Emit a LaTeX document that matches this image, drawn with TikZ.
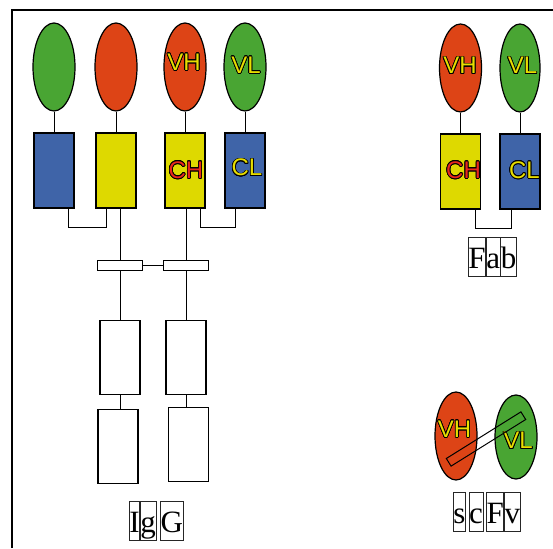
\documentclass[tikz,border=0pt]{standalone}
\usepackage{fontspec}
\setmainfont{Liberation Serif}
\newfontfamily\domfont{Liberation Sans}
\usepackage{contour}
\usepackage{tikz}
\usetikzlibrary{shapes, positioning}
\definecolor{vgreen}{RGB}{73,165,51}
\definecolor{vred}{RGB}{221,68,22}
\definecolor{cyellow}{RGB}{222,217,0}
\definecolor{cblue}{RGB}{63,100,168}
\definecolor{tyellow}{RGB}{232,222,0}
\definecolor{tred}{RGB}{232,40,30}
\contourlength{0.75pt}
\tikzstyle{vdom} = [draw, ellipse, line width=1.2pt, minimum width=42pt, minimum height=88pt, inner sep=0]
\tikzstyle{cdom} = [draw, rectangle, line width=1.2pt, minimum width=40pt, minimum height=75pt, inner sep=0]
\tikzstyle{fcdom} = [draw, rectangle, line width=1.2pt, fill=white, minimum width=40pt, minimum height=74pt, inner sep=0]
\tikzstyle{hinge} = [draw, rectangle, fill=white, minimum width=45pt, minimum height=10pt, inner sep=0]
\tikzstyle{chr} = [draw=black!85, line width=0.7pt, inner sep=0, text height=31pt, text depth=8pt, font=\fontsize{31}{31}\selectfont]
\tikzstyle{dlab} = [inner sep=0, font=\domfont\fontsize{24}{24}\selectfont]
\newcommand{\yl}[1]{\textcolor{tyellow}{\contour{black}{#1}}}
\newcommand{\rl}[1]{\textcolor{tred}{\contour{black}{#1}}}

\begin{document}
\begin{tikzpicture}[x=1pt, y=1pt, line width=1pt]
  \useasboundingbox (0,0) rectangle (553,548);
  \draw [line width=1.5pt] (12,0) -- (12,538) -- (553,538);

  % IgG
  \node [vdom, fill=vgreen] (vl1) at (54,481) {};
  \node [vdom, fill=vred] (vh1) at (116,481) {};
  \node [vdom, fill=vred] (vh2) at (185,481) {};
  \node [vdom, fill=vgreen] (vl2) at (245,481) {};
  \node [cdom, fill=cblue, below of=vl1, node distance=103.5pt] (cl1) {};
  \node [cdom, fill=cyellow, below of=vh1, node distance=103.5pt] (ch1) {};
  \node [cdom, fill=cyellow, below of=vh2, node distance=103.5pt] (ch2) {};
  \node [cdom, fill=cblue, below of=vl2, node distance=103.5pt] (cl2) {};
  \node [dlab] (vh2t) at (184,485.5) {\yl{VH}};
  \node [dlab] (vl2t) at (246,482.5) {\yl{VL}};
  \node [dlab] (ch2t) at (186,377.5) {\rl{CH}};
  \node [dlab] (cl2t) at (247,380) {\yl{CL}};
  \draw (vl1) -- (cl1);
  \draw (vh1) -- (ch1);
  \draw (vh2) -- (ch2);
  \draw (vl2) -- (cl2);
  \draw ([xshift=14pt]cl1.south) -- ++(0,-19) -| ([xshift=-10pt]ch1.south);
  \draw ([xshift=15pt]ch2.south) -- ++(0,-19) -| ([xshift=-10pt]cl2.south);

  \node [hinge] (hg1) at (120,282.5) {};
  \node [hinge] (hg2) at (186,282.5) {};
  \draw ([xshift=4pt]ch1.south) -- (hg1);
  \draw ([xshift=1pt]ch2.south) -- (hg2);
  \draw (hg1) -- (hg2);
  \node [fcdom, below of=hg1, node distance=92pt] (fc1) {};
  \node [fcdom, below of=hg2, node distance=92pt] (fc2) {};
  \node [fcdom] (fc3) at (118,101.5) {};
  \node [fcdom] (fc4) at (188.5,103.5) {};
  \draw (hg1) -- (fc1);
  \draw (hg2) -- (fc2);
  \draw (fc1.south) -- (fc1.south |- fc3.north);
  \draw (fc2.south) -- (fc2.south |- fc4.north);
  \node [chr, anchor=west] (ig1) at (129,27.5) {I};
  \node [chr, right=0pt of ig1] (ig2) {g};
  \node [chr, right=4pt of ig2] (ig3) {G};

  % Fab
  \node [vdom, fill=vred] (fvh) at (460.5,480) {};
  \node [vdom, fill=vgreen, minimum width=40pt] (fvl) at (520,480) {};
  \node [cdom, fill=cyellow, below of=fvh, node distance=103.5pt] (fch) {};
  \node [cdom, fill=cblue, below of=fvl, node distance=103.5pt] (fcl) {};
  \node [dlab] (fvht) at (460,482) {\yl{VH}};
  \node [dlab] (fvlt) at (522.5,482) {\yl{VL}};
  \node [dlab] (fcht) at (463.5,377.5) {\rl{CH}};
  \node [dlab] (fclt) at (524.5,377.5) {\yl{CL}};
  \draw (fvh) -- (fch);
  \draw (fvl) -- (fcl);
  \draw ([xshift=14.5pt]fch.south) -- ++(0,-19) -| ([xshift=-9pt]fcl.south);
  \node [chr, anchor=west] (fab1) at (468,291) {F};
  \node [chr, right=0pt of fab1] (fab2) {a};
  \node [chr, right=0pt of fab2] (fab3) {b};

  % scFv
  \node [vdom, fill=vred] (svh) at (456,112) {};
  \node [vdom, fill=vgreen, minimum height=84pt] (svl) at (516,111) {};
  \node [dlab] (svht) at (454.5,118.5) {\yl{VH}};
  \node [dlab] (svlt) at (518,107) {\yl{VL}};
  \node [draw, rectangle, rotate=32, minimum width=88pt, minimum height=9pt, inner sep=0] (link) at (486,109) {};
  \node [chr, anchor=west] (sc1) at (453,36) {s};
  \node [chr, right=3pt of sc1] (sc2) {c};
  \node [chr, right=3pt of sc2] (sc3) {F};
  \node [chr, right=0pt of sc3] (sc4) {v};
\end{tikzpicture}
\end{document}
